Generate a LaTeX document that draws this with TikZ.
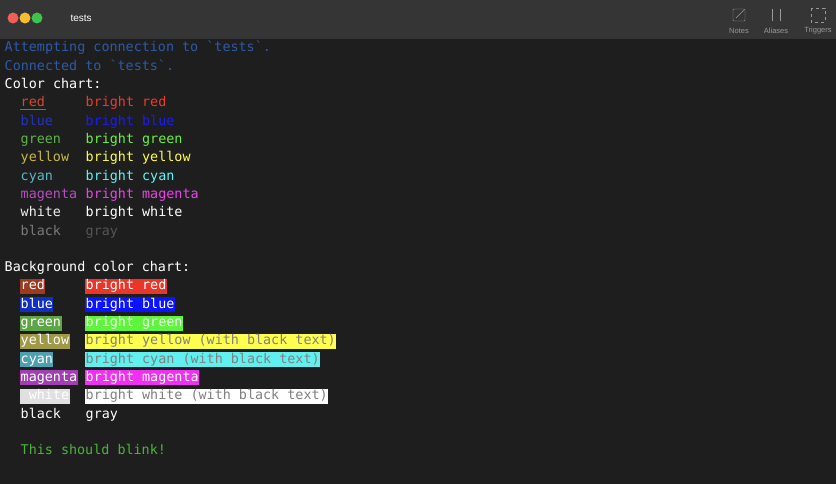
\documentclass[tikz,border=0pt]{standalone}
\usepackage{fontspec}
\setmonofont{DejaVu Sans Mono}
\setsansfont{Liberation Sans}
\definecolor{termbg}{HTML}{1E1E1E}
\definecolor{barbg}{HTML}{353535}
\definecolor{infoblue}{HTML}{2D5AA8}
\definecolor{lightred}{HTML}{EE5F57}
\definecolor{lightyellow}{HTML}{F5BD2F}
\definecolor{lightgreen}{HTML}{3DC44A}
\definecolor{fgred}{HTML}{D14A36}
\definecolor{blinkgreen}{HTML}{4DB33A}
\tikzset{
  term/.style={anchor=west, inner xsep=0.5pt, inner ysep=0pt, text height=11pt, text depth=4pt,
    font=\fontsize{13.4}{15}\ttfamily},
  hl/.style={term, fill=#1},
  dot/.style={circle, inner sep=0pt, minimum size=11pt, fill=#1},
  tool/.style={font=\fontsize{7.5}{8}\sffamily, text=gray!80},
}
\newcommand{\row}[1]{48.5+18.3*#1}
\begin{document}
\begin{tikzpicture}[x=1pt, y=-1pt]
\useasboundingbox (0,0) rectangle (836,484);
\fill[termbg] (0,0) rectangle (836,484);
%Title bar:
\fill[barbg] (0,0) rectangle (836,38);
\draw[black!80, line width=1pt] (0,38.5) -- (836,38.5);
\node[dot=lightred] (close) at (13,18) {};
\node[dot=lightyellow] (minim) at (25,18) {};
\node[dot=lightgreen] (zoom) at (37,18) {};
\node[anchor=west, text=white, font=\fontsize{10}{12}\sffamily] (title) at (67,18) {tests};
\draw[gray!80, rounded corners=1pt] (733,9) rectangle (745,21);
\draw[gray!80] (736,18) -- (744,10);
\draw[gray!80] (772,9) -- (772,21) (780,9) -- (780,21);
\draw[gray!80, dashed] (811,8) rectangle (825,22);
\node[tool] (notes) at (739,31) {Notes};
\node[tool] (aliases) at (776,31) {Aliases};
\node[tool] (triggers) at (818,31) {Triggers};
%Header lines:
\node[term, text=infoblue] (l0) at (4,{\row{0}}) {Attempting connection to `tests`.};
\node[term, text=infoblue] (l1) at (4,{\row{1}}) {Connected to `tests`.};
\node[term, text=white] (l2) at (4,{\row{2}}) {Color chart:};
%Color chart:
\foreach \n/\a/\ca/\b/\cb [count=\i from 3] in {
  red/red/D14A36/bright red/F03A2A,
  blue/blue/2433C4/bright blue/1A1AFF,
  green/green/5CB545/bright green/6CF23F,
  yellow/yellow/C9B944/bright yellow/FFFF44,
  cyan/cyan/5AB8C8/bright cyan/5FF5F5,
  magenta/magenta/B54FC0/bright magenta/F040F0,
  white/white/EEEEEE/bright white/FFFFFF,
  black/black/7A7A7A/gray/555555}{
  \definecolor{ca}{HTML}{\ca}\definecolor{cb}{HTML}{\cb}
  \node[term, text=ca] (fg-\n) at (20,{\row{\i}}) {\a};
  \node[term, text=cb] (fgb-\n) at (85,{\row{\i}}) {\b};
}
\draw[fgred, line width=0.6pt] ([yshift=-2.5pt]fg-red.base west) -- ([yshift=-2.5pt]fg-red.base east);
\node[term, text=white] (l12) at (4,{\row{12}}) {Background color chart:};
%Background color chart:
\foreach \n/\a/\ca/\ta/\b/\cb/\tb [count=\i from 13] in {
  red/red/9C3A22/white/bright red/E8372A/white,
  blue/blue/1030C0/white/bright blue/0A14FF/white,
  green/green/5EA548/white/bright green/5EF53C/white,
  yellow/yellow/A09A48/white/bright yellow (with black text)/FFFF50/gray,
  cyan/cyan/4EA0B0/white/bright cyan (with black text)/60F0F0/gray,
  magenta/magenta/A040B0/white/bright magenta/F030F0/white,
  white/\phantom{.}white/E0E0E0/white/bright white (with black text)/FFFFFF/gray}{
  \definecolor{ca}{HTML}{\ca}\definecolor{cb}{HTML}{\cb}
  \node[hl=ca, text=\ta] (bg-\n) at (20,{\row{\i}}) {\a};
  \node[hl=cb, text=\tb] (bgb-\n) at (85,{\row{\i}}) {\b};
}
\node[term, text=white] (bg-black) at (20,{\row{20}}) {black};
\node[term, text=white] (bgb-gray) at (85,{\row{20}}) {gray};
\node[term, text=blinkgreen] (blink) at (20,{\row{22}}) {This should blink!};
\end{tikzpicture}
\end{document}
